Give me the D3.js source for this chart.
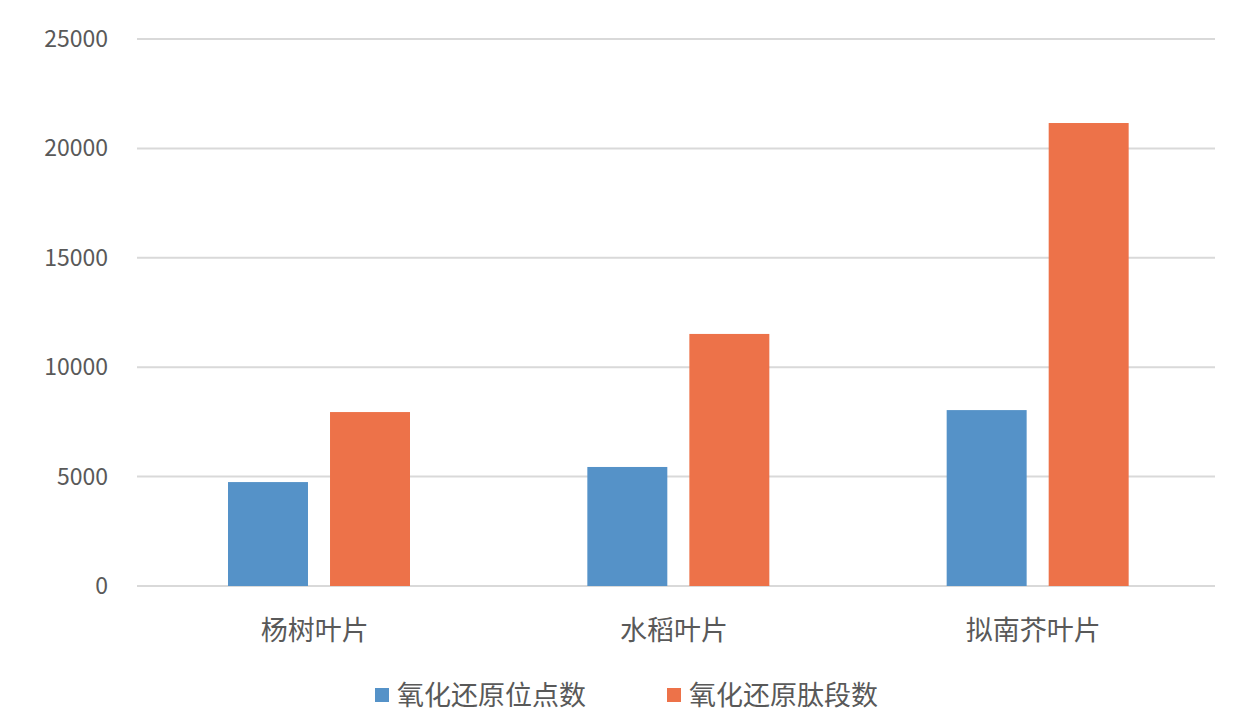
<!DOCTYPE html>
<html><head><meta charset="utf-8">
<script src="https://cdn.jsdelivr.net/npm/d3@7"></script>
<style>body{margin:0;background:#fff}</style>
</head><body>
<script>
const categories = ['杨树叶片', '水稻叶片', '拟南芥叶片'];
const seriesNames = ['氧化还原位点数', '氧化还原肽段数'];
const sites = [4750, 5440, 8040];
const peptides = [7950, 11520, 21160];
const yTicks = [0, 5000, 10000, 15000, 20000, 25000];
const colors = ['#5592c8', '#ed7249'];

const svg = d3.select('body').append('svg').attr('width', 1245).attr('height', 722);
const font = '"Noto Sans CJK SC", "Open Sans", sans-serif';

const y = d3.scaleLinear().domain([0, 25000]).range([586, 39]);
const x0 = d3.scaleBand().domain(categories).range([137, 1215]);
const x1 = d3.scaleBand().domain(seriesNames).range([91, 273]).paddingInner(0.216);

svg.append('g').selectAll('line').data(yTicks).enter().append('line')
  .attr('x1', 137).attr('x2', 1215)
  .attr('y1', d => y(d)).attr('y2', d => y(d))
  .attr('stroke', '#d9d9d9').attr('stroke-width', 2);

svg.append('g').selectAll('text').data(yTicks).enter().append('text')
  .attr('x', 108).attr('y', d => y(d) + 8)
  .attr('text-anchor', 'end').attr('font-size', 23).attr('font-family', font)
  .attr('fill', '#595959').text(d => d);

const data = categories.map((c, i) => ({c, vals: [sites[i], peptides[i]]}));
const g = svg.append('g').selectAll('g').data(data).enter().append('g')
  .attr('transform', d => `translate(${x0(d.c)},0)`);
g.selectAll('rect').data(d => d.vals.map((v, j) => ({v, s: seriesNames[j], j}))).enter().append('rect')
  .attr('x', d => x1(d.s)).attr('width', x1.bandwidth())
  .attr('y', d => y(d.v)).attr('height', d => y(0) - y(d.v))
  .attr('fill', d => colors[d.j]);

svg.append('g').selectAll('text').data(categories).enter().append('text')
  .attr('x', d => x0(d) + x0.bandwidth() / 2 - 2).attr('y', 640)
  .attr('text-anchor', 'middle').attr('font-size', 27).attr('font-family', font)
  .attr('fill', '#595959').text(d => d);

const legendX = [375, 667];
const lg = svg.append('g').selectAll('g').data(seriesNames).enter().append('g')
  .attr('transform', (d, i) => `translate(${legendX[i]},688)`);
lg.append('rect').attr('width', 14).attr('height', 14).attr('fill', (d, i) => colors[i]);
lg.append('text').attr('x', 22).attr('y', 17).attr('font-size', 27).attr('font-family', font)
  .attr('fill', '#595959').text(d => d);
</script>
</body></html>
